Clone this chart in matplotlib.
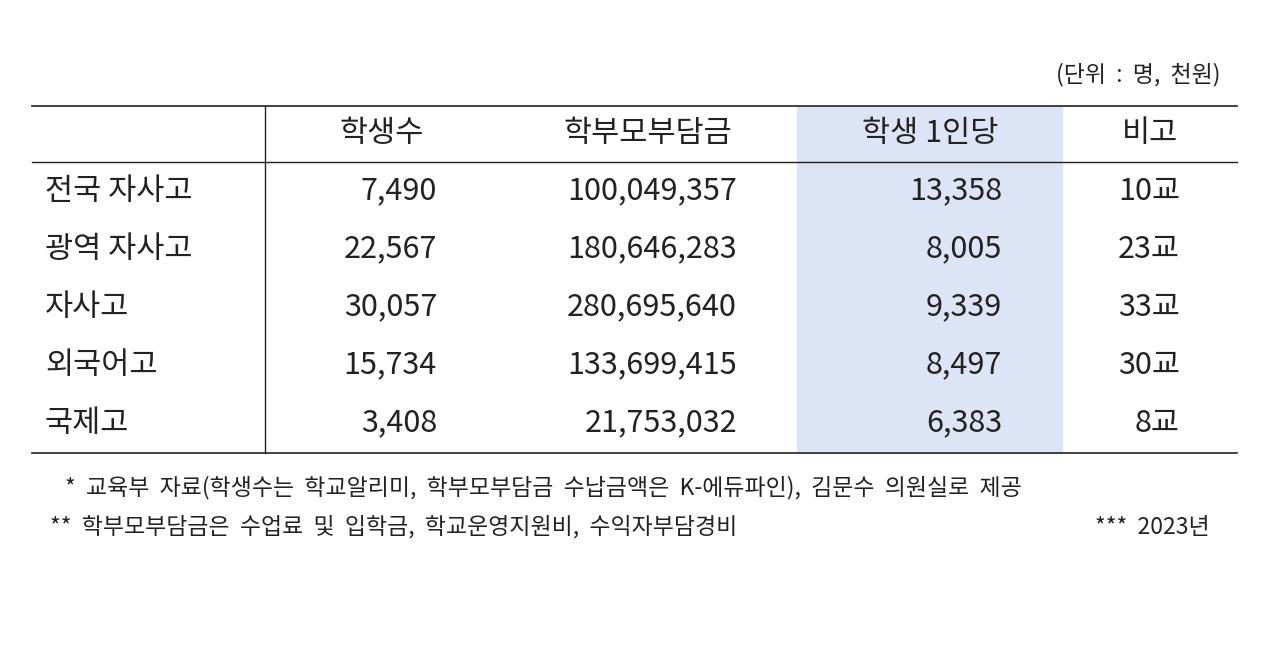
import matplotlib.pyplot as plt
from matplotlib.patches import Rectangle

plt.rcParams['font.family'] = ['Noto Sans CJK KR', 'DejaVu Sans']

headers = ['학생수', '학부모부담금', '학생 1인당', '비고']
rows = ['전국 자사고', '광역 자사고', '자사고', '외국어고', '국제고']
students = ['7,490', '22,567', '30,057', '15,734', '3,408']
burden = ['100,049,357', '180,646,283', '280,695,640', '133,699,415', '21,753,032']
per_student = ['13,358', '8,005', '9,339', '8,497', '6,383']
note = ['10교', '23교', '33교', '30교', '8교']

fig = plt.figure(figsize=(12.7, 6.48), dpi=100)
ax = fig.add_axes([0, 0, 1, 1])
ax.set_xlim(0, 1270)
ax.set_ylim(648, 0)
ax.axis('off')

# 강조 열
ax.add_patch(Rectangle((797, 106), 265, 347, color='#dde4f6', zorder=0))

# 선
ax.plot([32, 1237], [106, 106], color='#222222', lw=1.2)
ax.plot([32, 1237], [162, 162], color='#222222', lw=1.0)
ax.plot([32, 1237], [453, 453], color='#222222', lw=1.2)
ax.plot([265, 265], [106, 453], color='#222222', lw=1.0)

ax.text(1220, 75, '(단위  :  명,  천원)', ha='right', va='center', fontsize=16.5, color='#222222')

fs = 22
for x, h in zip([382, 648, 930, 1150], headers):
    ax.text(x, 134, h, ha='center', va='center', fontsize=fs, color='#222222')

cols = [(437, students), (737, burden), (1002, per_student), (1180, note)]
for i, name in enumerate(rows):
    y = 191 + i * 58
    ax.text(45, y, name, ha='left', va='center', fontsize=fs, color='#222222')
    for x, vals in cols:
        ax.text(x, y, vals[i], ha='right', va='center', fontsize=fs, color='#222222')

ax.text(65, 488, '*  교육부  자료(학생수는  학교알리미,  학부모부담금  수납금액은  K-에듀파인),  김문수  의원실로  제공',
        ha='left', va='center', fontsize=16.5, color='#222222')
ax.text(50, 527, '**  학부모부담금은  수업료  및  입학금,  학교운영지원비,  수익자부담경비',
        ha='left', va='center', fontsize=16.5, color='#222222')
ax.text(1210, 527, '***  2023년', ha='right', va='center', fontsize=16.5, color='#222222')

fig.savefig('out.png', dpi=100)
